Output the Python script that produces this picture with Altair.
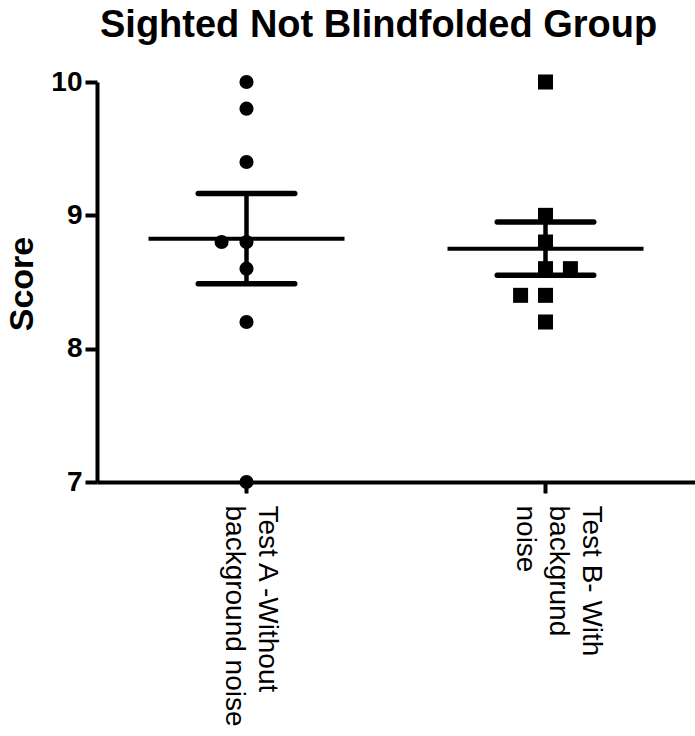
import altair as alt
import pandas as pd

# Group labels (line breaks mark where each axis label wraps)
groups = ["Test A -Without\nbackground noise", "Test B- With\nbackgrund\nnoise"]

# Individual scores per group
scores_a = [10.0, 9.8, 9.4, 8.8, 8.8, 8.6, 8.2, 7.0]
scores_b = [10.0, 9.0, 8.8, 8.6, 8.6, 8.4, 8.4, 8.2]

# Side-by-side placement for tied scores (-1 left, 0 centre, 1 right)
dodge_a = [0, 0, 0, -1, 0, 0, 0, 0]
dodge_b = [0, 0, 0, 0, 1, -1, 0, 0]

y_ticks = [7, 8, 9, 10]

df = pd.DataFrame({
    "group": [groups[0]] * len(scores_a) + [groups[1]] * len(scores_b),
    "score": scores_a + scores_b,
    "dodge": dodge_a + dodge_b,
})

FONT = "Liberation Sans"

x_enc = alt.X(
    "group:N",
    sort=groups,
    scale=alt.Scale(paddingInner=0, paddingOuter=0),
    axis=alt.Axis(
        title=None,
        labelAngle=90,
        labelAlign="left",
        labelBaseline="bottom",
        # the three-line label sits further right than the two-line one
        labelOffset={
            "condition": {"test": "indexof(datum.value, 'Test B') >= 0", "value": 31},
            "value": 6,
        },
        labelPadding=12,
        labelFontSize=28,
        labelFont=FONT,
        labelLineHeight=33,
        labelLimit=0,
        labelOverlap=False,
        labelExpr="split(datum.label, '\\n')",
        tickSize=11,
    ),
)

y_scale = alt.Scale(domain=[7, 10], nice=False, zero=False)

points = alt.Chart(df).mark_point(filled=True, opacity=1, color="black").encode(
    x=x_enc,
    xOffset=alt.XOffset("dodge:Q", scale=alt.Scale(domain=[-6, 6])),
    y=alt.Y(
        "score:Q",
        scale=y_scale,
        axis=alt.Axis(
            values=y_ticks,
            format="d",
            title="Score",
            titleFontSize=34,
            titleFontWeight="bold",
            titleFont=FONT,
            titleAngle=-90,
            titleAlign="center",
            titleBaseline="alphabetic",
            titleX=-65,
            titleY=201.5,
            labelFontSize=28,
            labelFontWeight="bold",
            labelFont=FONT,
            labelPadding=3,
            tickSize=12,
        ),
    ),
    shape=alt.Shape("group:N", scale=alt.Scale(domain=groups, range=["circle", "square"]), legend=None),
    size=alt.Size("group:N", scale=alt.Scale(domain=groups, range=[200, 225]), legend=None),
)

# Mean and standard error of the mean per group
stats = alt.Chart(df).transform_aggregate(
    mean="mean(score)", sem="stderr(score)", groupby=["group"]
).transform_calculate(
    lo="datum.mean - datum.sem", hi="datum.mean + datum.sem"
)

mean_line = stats.mark_tick(color="black", thickness=4, size=196, opacity=1).encode(
    x=alt.X("group:N", sort=groups),
    y=alt.Y("mean:Q", scale=y_scale),
)

whisker = stats.mark_rule(color="black", strokeWidth=4.5).encode(
    x=alt.X("group:N", sort=groups),
    y=alt.Y("lo:Q", scale=y_scale),
    y2="hi:Q",
)

cap_lo = stats.mark_tick(color="black", thickness=5.5, size=102, cornerRadius=2.5, opacity=1).encode(
    x=alt.X("group:N", sort=groups),
    y=alt.Y("lo:Q", scale=y_scale),
)

cap_hi = stats.mark_tick(color="black", thickness=5.5, size=102, cornerRadius=2.5, opacity=1).encode(
    x=alt.X("group:N", sort=groups),
    y=alt.Y("hi:Q", scale=y_scale),
)

chart = alt.layer(points, whisker, mean_line, cap_lo, cap_hi).properties(
    width=598,
    height=400,
    padding={"left": 97, "top": 82, "right": 0, "bottom": 254},
    autosize=alt.AutoSizeParams(type="none"),
    title=alt.TitleParams(
        "Sighted Not Blindfolded Group",
        fontSize=38,
        fontWeight="bold",
        font=FONT,
        color="black",
        anchor="start",
        frame="group",
        dx=3,
        offset=23,
    ),
).configure_view(
    stroke=None
).configure_axis(
    grid=False,
    domainColor="black",
    domainWidth=4,
    tickColor="black",
    tickWidth=4,
    labelColor="black",
    titleColor="black",
)

chart.save("out.html", embed_options={"renderer": "svg", "actions": False})
